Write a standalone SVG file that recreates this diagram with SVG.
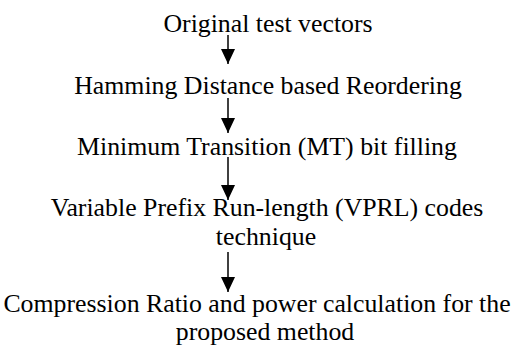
<svg xmlns="http://www.w3.org/2000/svg" width="525" height="347" viewBox="0 0 525 347">
  <style>
    .lbl { font-family: "Liberation Serif", "Times New Roman", serif; font-size: 25.8px; fill: #000; text-anchor: middle; }
    .flow { stroke: #000; stroke-width: 1.5; fill: none; }
  </style>
  <defs>
    <!-- solid triangular arrowhead, tip at the end of the line -->
    <marker id="head" markerUnits="userSpaceOnUse" markerWidth="15" markerHeight="14" refX="15" refY="7" orient="auto" viewBox="0 0 15 14">
      <path d="M0,0 L15,7 L0,14 Z" fill="#000"/>
    </marker>
  </defs>
  <rect width="525" height="347" fill="#fff"/>

  <g id="connectors">
    <line class="flow" x1="228" y1="35" x2="228" y2="64" marker-end="url(#head)"/>
    <line class="flow" x1="228" y1="98" x2="228" y2="133" marker-end="url(#head)"/>
    <line class="flow" x1="228" y1="157" x2="228" y2="200" marker-end="url(#head)"/>
    <line class="flow" x1="228" y1="252" x2="228" y2="292" marker-end="url(#head)"/>
  </g>

  <g id="original">
    <text class="lbl" x="268" y="32">Original test vectors</text>
  </g>
  <g id="reordering">
    <text class="lbl" x="268" y="94">Hamming Distance based Reordering</text>
  </g>
  <g id="mt-filling">
    <text class="lbl" x="267" y="155">Minimum Transition (MT) bit filling</text>
  </g>
  <g id="vprl">
    <text class="lbl" x="267" y="216">Variable Prefix Run-length (VPRL) codes</text>
    <text class="lbl" x="266" y="245">technique</text>
  </g>
  <g id="result">
    <text class="lbl" x="257" y="312">Compression Ratio and power calculation for the</text>
    <text class="lbl" x="265" y="340">proposed method</text>
  </g>
</svg>
